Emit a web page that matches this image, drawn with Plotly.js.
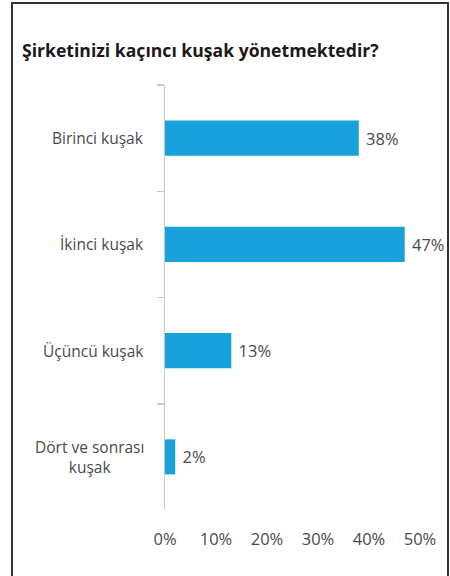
<!DOCTYPE html>
<html>
<head>
<meta charset="utf-8">
<script src="https://cdn.plot.ly/plotly-3.0.1.min.js"></script>
<style>
  html, body { margin: 0; padding: 0; background: #fff; }
  #wrap { position: relative; width: 450px; height: 576px; overflow: hidden; }
  #frame { position: absolute; left: 11px; top: 2px; width: 434px; height: 590px; border: 2px solid #333; pointer-events: none; }
  #chart { position: absolute; left: 0; top: 0; width: 450px; height: 576px; }
</style>
</head>
<body>
<div id="wrap">
  <div id="chart"></div>
  <div id="frame"></div>
</div>
<script>
const titleText = "Şirketinizi kaçıncı kuşak yönetmektedir?";
const categories = ["Birinci kuşak", "İkinci kuşak", "Üçüncü kuşak", "Dört ve sonrası<br>kuşak"];
const values = [38, 47, 13, 2];
const xTickVals = [0, 10, 20, 30, 40, 50];
const xTickText = ["0%", "10%", "20%", "30%", "40%", "50%"];

const font = "'Open Sans', 'Noto Sans', sans-serif";
const grey = "#4a4a4a";

const trace = {
  type: "bar",
  orientation: "h",
  y: categories,
  x: values,
  marker: { color: "#18a1db" },
  text: values.map(v => "\u00a0" + v + "%"),
  textposition: "outside",
  textfont: { family: font, size: 16.5, color: grey },
  cliponaxis: false,
  hoverinfo: "none"
};

const annotations = categories.map(c => ({
  xref: "paper", yref: "y",
  x: -0.075, y: c,
  xanchor: "right", yanchor: "middle",
  align: "center",
  text: c,
  showarrow: false,
  font: { family: font, size: 15.5, color: grey }
}));

const layout = {
  width: 450, height: 576,
  margin: { l: 165, r: 30, t: 85, b: 66 },
  paper_bgcolor: "#fff",
  plot_bgcolor: "#fff",
  showlegend: false,
  bargap: 0.67,
  title: {
    text: "<b>" + titleText + "</b>",
    xref: "container", yref: "container",
    x: 22 / 450, xanchor: "left",
    y: 1 - 51 / 576, yanchor: "middle",
    font: { family: font, size: 17.6, color: "#1a1a1a" }
  },
  xaxis: {
    range: [0, 50],
    tickvals: xTickVals,
    ticktext: xTickText,
    showgrid: false,
    zeroline: false,
    showline: false,
    ticks: "",
    ticklabelstandoff: 17,
    tickfont: { family: font, size: 16.5, color: grey },
    fixedrange: true
  },
  yaxis: {
    type: "category",
    autorange: "reversed",
    showgrid: false,
    zeroline: false,
    showline: true,
    linecolor: "#c8c8c8",
    linewidth: 1.5,
    ticks: "outside",
    tickson: "boundaries",
    ticklen: 7,
    tickcolor: "#c8c8c8",
    tickwidth: 1.5,
    showticklabels: false,
    fixedrange: true
  },
  annotations: annotations
};

Plotly.newPlot("chart", [trace], layout, { displayModeBar: false, staticPlot: true });
</script>
</body>
</html>
